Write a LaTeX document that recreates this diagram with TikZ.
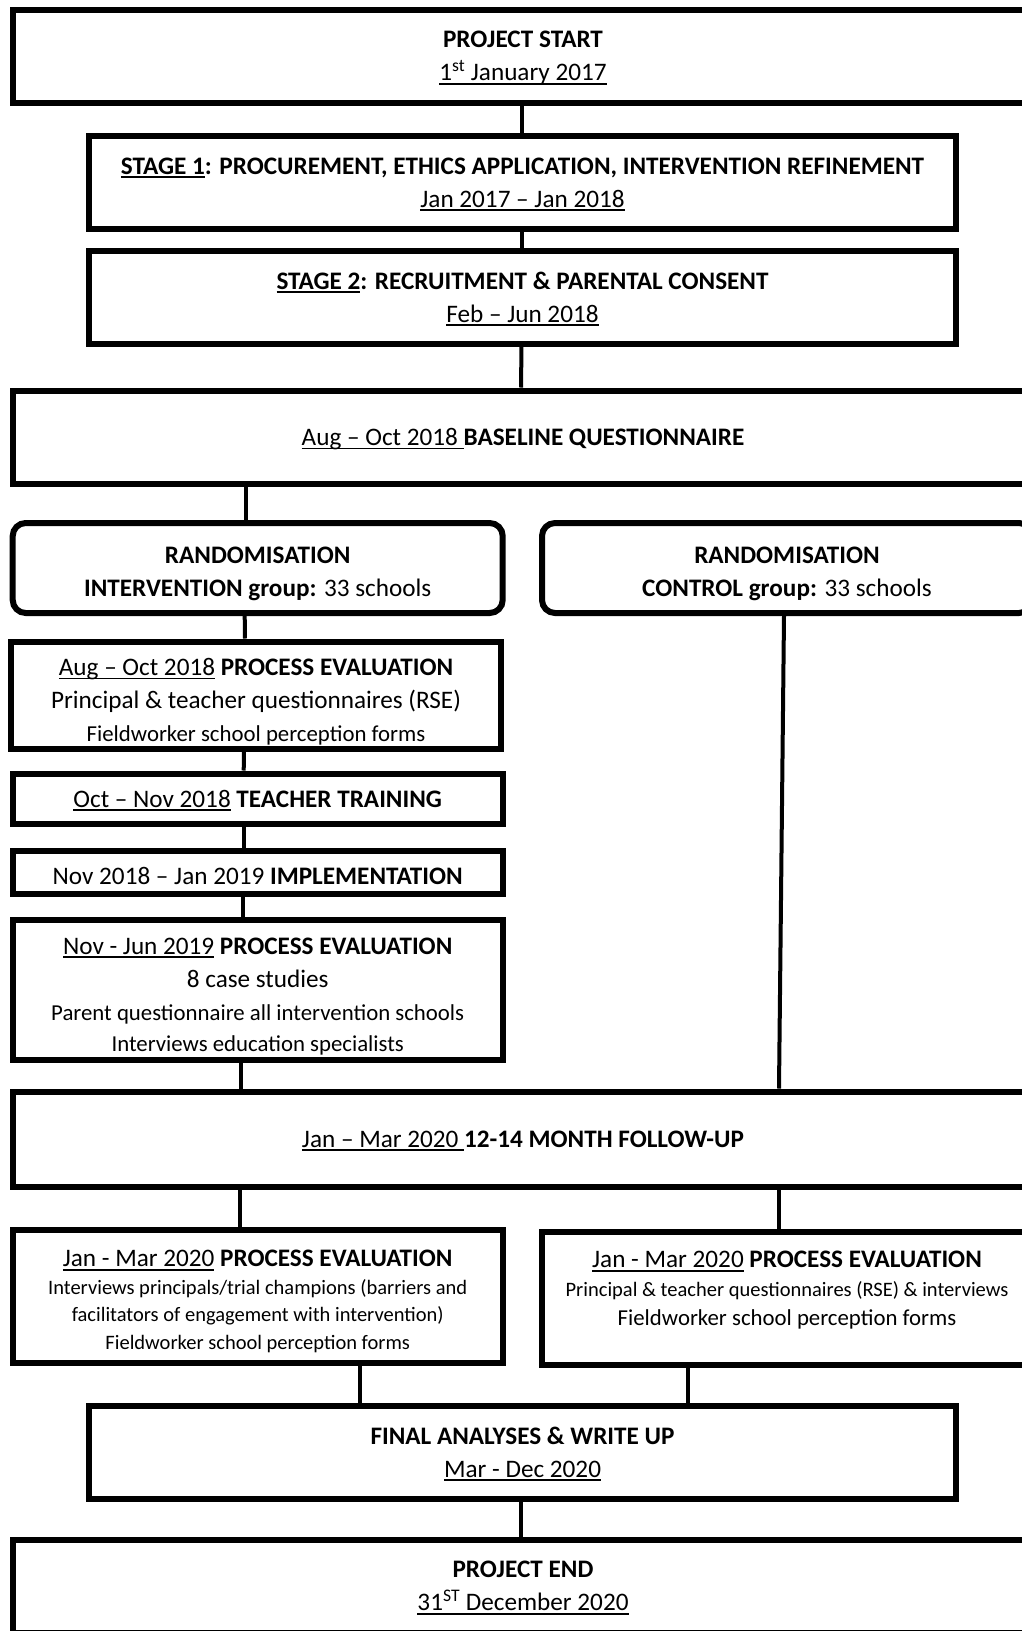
\documentclass[tikz,border=0pt]{standalone}
\usepackage{fontspec}
\setmainfont{Carlito}
\newcommand\myul[1]{\setbox0\hbox{#1}\rlap{\rule[-0.15em]{\wd0}{0.07em}}\box0\relax}
\newcommand\fs[1]{\fontsize{#1}{#1}\selectfont}
\begin{document}
\begin{tikzpicture}[x=1pt,y=-1pt,
  box/.style={draw, line width=6pt, fill=white, inner sep=0pt, align=center, text depth=0pt, font=\fontsize{25.2}{33}\selectfont},
  wide/.style={box, minimum width=1021pt, minimum height=93pt},
  mid/.style={box, minimum width=867pt, minimum height=93pt},
  half/.style={box, minimum width=490pt},
  link/.style={line width=4pt}]
\clip (0,0) rectangle (1022,1631);
\fill[white] (0,0) rectangle (1022,1631);

\node[wide] (B1) at (523,56) {\textbf{PROJECT START}\\ \myul{1\textsuperscript{st} January 2017}};
\node[mid] (B2) at (522.5,182.5) {\textbf{\myul{STAGE 1}: PROCUREMENT, ETHICS APPLICATION, INTERVENTION REFINEMENT}\\ \myul{Jan 2017 – Jan 2018}};
\node[mid] (B3) at (522.5,297) {\textbf{\myul{STAGE 2}: RECRUITMENT \& PARENTAL CONSENT}\\ \myul{Feb – Jun 2018}};
\node[wide] (B4) at (523,437) {\myul{Aug – Oct 2018 }\textbf{BASELINE QUESTIONNAIRE}};
\node[half, rounded corners=13pt, minimum height=90pt] (B5) at (257.7,568) {\rule{0pt}{24pt}\textbf{RANDOMISATION}\\ \textbf{INTERVENTION group:} 33 schools};
\node[half, rounded corners=13pt, minimum height=90pt] (B6) at (787,568) {\rule{0pt}{24pt}\textbf{RANDOMISATION}\\ \textbf{CONTROL group:} 33 schools};
\node[half, minimum height=107pt] (B7) at (256,695) {\rule{0pt}{27pt}\myul{Aug – Oct 2018} \textbf{PROCESS EVALUATION}\\ Principal \& teacher questionnaires (RSE)\\ {\fs{22.8}Fieldworker school perception forms}};
\node[half, minimum height=50pt] (B8) at (257.7,798.5) {\myul{Oct – Nov 2018} \textbf{TEACHER TRAINING}};
\node[half, minimum height=43pt] (B9) at (257.7,872) {\rule{0pt}{24pt}Nov 2018 – Jan 2019 \textbf{IMPLEMENTATION}};
\node[half, minimum height=140pt] (B10) at (257.7,990) {\rule{0pt}{26pt}\myul{Nov - Jun 2019} \textbf{PROCESS EVALUATION}\\ 8 case studies\\ {\fs{22.8}Parent questionnaire all intervention schools}\\[-1.5pt] {\fs{22.8}Interviews education specialists}};
\node[wide, minimum height=95pt] (B11) at (523,1139) {\myul{Jan – Mar 2020 }\textbf{12-14 MONTH FOLLOW-UP}};
\node[half, minimum height=133pt, font=\fontsize{25.2}{27.5}\selectfont] (B12) at (257.7,1296.5) {\rule{0pt}{23pt}\myul{Jan - Mar 2020} \textbf{PROCESS EVALUATION}\\ {\fs{20.5}Interviews principals/trial champions (barriers and}\\ {\fs{20.5}facilitators of engagement with intervention)}\\ {\fs{20.5}Fieldworker school perception forms}};
\node[half, minimum height=133pt, font=\fontsize{25.2}{29}\selectfont, text depth=20pt] (B13) at (787,1298.5) {\myul{Jan - Mar 2020} \textbf{PROCESS EVALUATION}\\ {\fs{20.5}Principal \& teacher questionnaires (RSE) \& interviews}\\ {\fs{22.8}Fieldworker school perception forms}};
\node[mid] (B14) at (522.5,1452) {\textbf{FINAL ANALYSES \& WRITE UP}\\ \myul{Mar - Dec 2020}};
\node[wide] (B15) at (523,1586) {\textbf{PROJECT END}\\ \myul{31\textsuperscript{ST} December 2020}};

\draw[link] ([xshift=-1pt]B1.south) -- ([xshift=-0.5pt]B2.north);
\draw[link] ([xshift=-0.5pt]B2.south) -- ([xshift=-0.5pt]B3.north);
\draw[link] ([xshift=-1pt]B3.south) -- ([xshift=-2pt]B4.north);
\draw[link] ([xshift=-12pt]B5.north |- B4.south) -- ([xshift=-12pt]B5.north);
\draw[link] ([xshift=-13pt]B5.south) -- ([xshift=-11pt]B7.north);
\draw[link] ([xshift=-12pt]B7.south) -- ([xshift=-14pt]B8.north);
\draw[link] ([xshift=-14pt]B8.south) -- ([xshift=-14pt]B9.north);
\draw[link] ([xshift=-15pt]B9.south) -- ([xshift=-15pt]B10.north);
\draw[link] ([xshift=-17pt]B10.south) -- ([xshift=-17pt]B10.south |- B11.north);
\draw[link] ([xshift=-3pt]B6.south) -- ([xshift=-8pt]B6.south |- B11.north);
\draw[link] ([xshift=-18pt]B12.north |- B11.south) -- ([xshift=-18pt]B12.north);
\draw[link] ([xshift=-8.5pt]B13.north |- B11.south) -- ([xshift=-8.5pt]B13.north);
\draw[link] ([xshift=102pt]B12.south) -- ([xshift=102pt]B12.south |- B14.north);
\draw[link] ([xshift=-99pt]B13.south) -- ([xshift=-99pt]B13.south |- B14.north);
\draw[link] ([xshift=-1.5pt]B14.south) -- ([xshift=-2pt]B15.north);
\end{tikzpicture}
\end{document}
